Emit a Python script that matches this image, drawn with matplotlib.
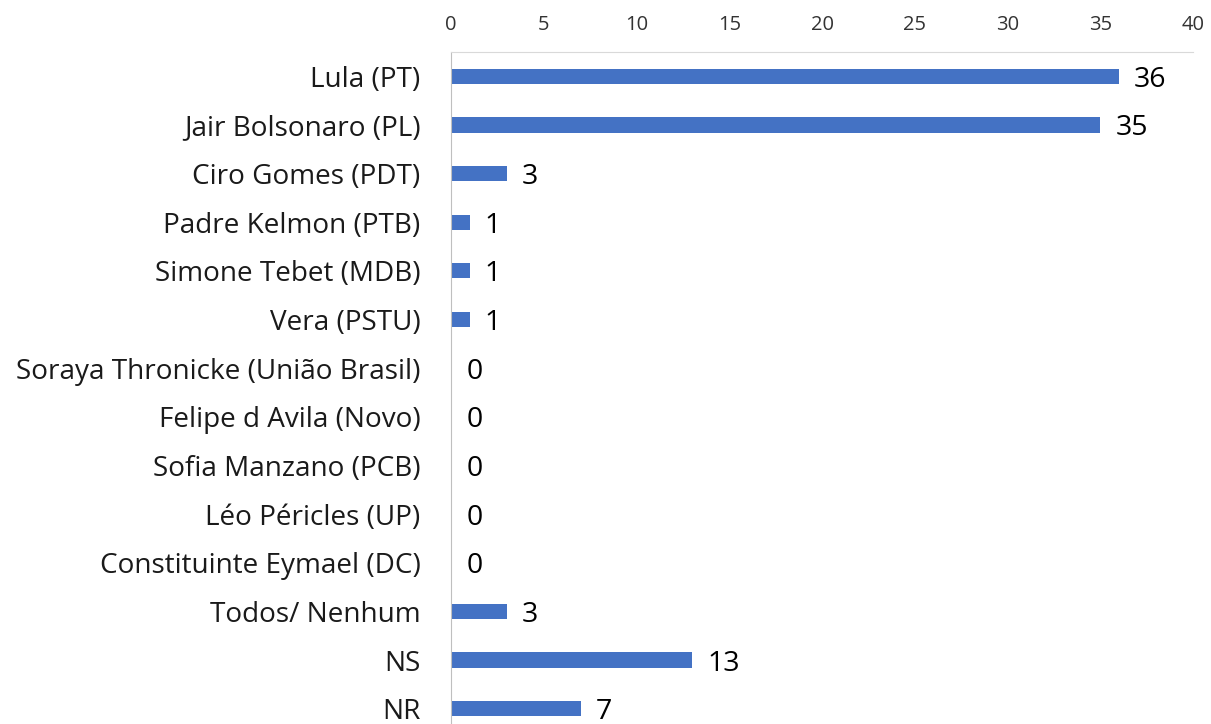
import matplotlib.pyplot as plt

# Dados do gráfico
candidatos = [
    "Lula (PT)",
    "Jair Bolsonaro (PL)",
    "Ciro Gomes (PDT)",
    "Padre Kelmon (PTB)",
    "Simone Tebet (MDB)",
    "Vera (PSTU)",
    "Soraya Thronicke (União Brasil)",
    "Felipe d Avila (Novo)",
    "Sofia Manzano (PCB)",
    "Léo Péricles (UP)",
    "Constituinte Eymael (DC)",
    "Todos/ Nenhum",
    "NS",
    "NR",
]
valores = [36, 35, 3, 1, 1, 1, 0, 0, 0, 0, 0, 3, 13, 7]
ticks = [0, 5, 10, 15, 20, 25, 30, 35, 40]

plt.rcParams["font.family"] = ["Open Sans", "DejaVu Sans"]

fig = plt.figure(figsize=(12.11, 7.24), dpi=100)
ax = fig.add_axes([451 / 1211, 1 - 733 / 724, (1193 - 451) / 1211, (733 - 52) / 724])

pos = list(range(len(candidatos)))
ax.barh(pos, valores, height=0.31, color="#4472C4")

for y, v in zip(pos, valores):
    ax.annotate(str(v), xy=(v, y), xytext=(11, -2.5), textcoords="offset points",
                ha="left", va="center", fontsize=20.5, color="#000000")

ax.set_xlim(0, 40)
ax.set_ylim(len(candidatos) - 0.5, -0.5)
ax.set_yticks(pos)
ax.set_yticklabels(candidatos, fontsize=20.1, color="#1a1a1a")
ax.set_xticks(ticks)
ax.set_xticklabels([str(t) for t in ticks], fontsize=14.5, color="#333333")
ax.xaxis.tick_top()
ax.tick_params(axis="x", length=0, pad=12)
ax.tick_params(axis="y", length=0, pad=22)

for s in ["right", "bottom"]:
    ax.spines[s].set_visible(False)
ax.spines["top"].set_color("#d9d9d9")
ax.spines["left"].set_color("#bfbfbf")

fig.savefig("out.png", dpi=100)
